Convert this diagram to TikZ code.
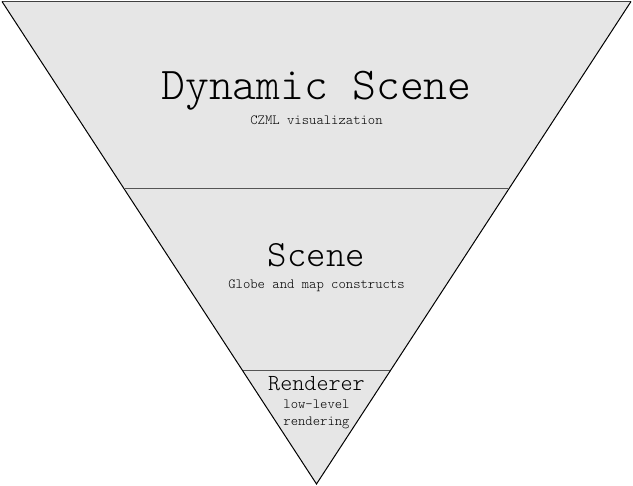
\documentclass[tikz,border=0pt]{standalone}
\usepackage{fontspec}
\newfontfamily\lightmono{Latin Modern Mono Light}
\definecolor{layerfill}{HTML}{E6E6E6}
\definecolor{divider}{HTML}{555555}
\begin{document}
\begin{tikzpicture}[x=1pt,y=-1pt,
  bigtitle/.style={font=\lightmono\fontsize{45.5}{50}\selectfont, inner sep=0pt, anchor=base},
  midtitle/.style={font=\lightmono\fontsize{37}{40}\selectfont, inner sep=0pt, anchor=base},
  smalltitle/.style={font=\lightmono\fontsize{23}{26}\selectfont, inner sep=0pt, anchor=base},
  caption/.style={font=\lightmono\fontsize{14}{17}\selectfont, inner sep=0pt, anchor=base, align=center}]
\useasboundingbox (0,0) rectangle (633,486);
\coordinate (tl) at (2,1.5);
\coordinate (tr) at (631,1.5);
\coordinate (apex) at (316.5,484);
\fill[layerfill] (tl) -- (tr) -- (apex) -- cycle;
\draw[divider, line width=1pt] (124.5,189) -- (507.5,189);
\draw[divider, line width=1pt] (243,371) -- (390,371);
\draw[black!75, line width=1.5pt] (tl) -- (tr);
\draw[black, line width=1pt] (tr) -- (apex) -- (tl);
\node[bigtitle] (dyn) at (316.5,100) {Dynamic Scene};
\node[caption] (czml) at (316.5,125) {CZML visualization};
\node[midtitle] (scene) at (316.5,267) {Scene};
\node[caption] (globe) at (316.5,289) {Globe and map constructs};
\node[smalltitle] (rend) at (316.5,391) {Renderer};
\node[caption] (low) at (316.5,409) {low-level};
\node[caption] (rendering) at (316.5,426) {rendering};
\end{tikzpicture}
\end{document}
